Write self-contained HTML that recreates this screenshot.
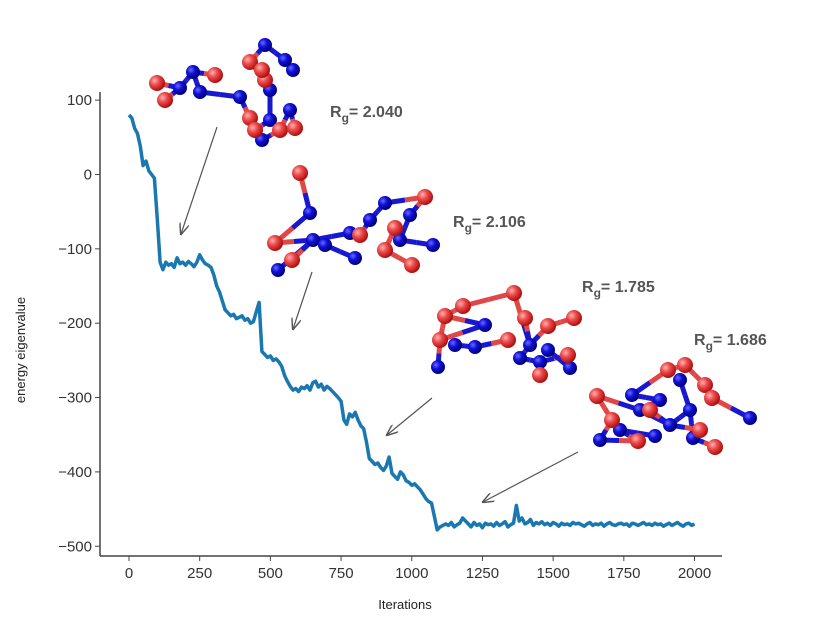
<!DOCTYPE html>
<html><head><meta charset="utf-8"><style>
html,body{margin:0;padding:0;background:#fff;}
svg{display:block;font-family:"Liberation Sans",sans-serif;}
</style></head><body>
<svg id="chart" width="835" height="635" viewBox="0 0 835 635">
<defs>
<radialGradient id="gr" cx="35%" cy="35%" r="65%"><stop offset="0" stop-color="#ffb0b0"/><stop offset="0.45" stop-color="#ec4a4a"/><stop offset="1" stop-color="#b01010"/></radialGradient>
<radialGradient id="gb" cx="35%" cy="35%" r="65%"><stop offset="0" stop-color="#6a6aff"/><stop offset="0.45" stop-color="#1010d8"/><stop offset="1" stop-color="#00007a"/></radialGradient>
<marker id="ah" markerWidth="10" markerHeight="8" refX="9" refY="4" orient="auto"><path d="M0,0 L10,4 L0,8" fill="none" stroke="#555" stroke-width="1.2"/></marker>
</defs>
<g id="plot"></g>
<g id="mols"></g>
<g id="ann"></g>
</svg>
<script>
const xTicks = [0,250,500,750,1000,1250,1500,1750,2000];
const yTicks = [100,0,-100,-200,-300,-400,-500];
const iterStep = 10;
const energy = [
80,76,62,55,38,12,18,5,0,-5,-60,-118,-128,-118,-122,-120,-125,-112,-120,-118,
-122,-117,-120,-124,-118,-108,-115,-120,-122,-125,-135,-150,-158,-170,-182,-186,-190,-188,-194,-192,
-190,-196,-194,-200,-198,-185,-172,-238,-242,-246,-244,-250,-248,-252,-258,-270,-278,-285,-290,-288,
-292,-286,-288,-284,-290,-280,-278,-286,-282,-290,-285,-288,-292,-296,-300,-305,-330,-336,-322,-326,
-320,-330,-338,-342,-360,-382,-386,-390,-388,-394,-398,-392,-380,-402,-406,-410,-400,-404,-412,-414,
-418,-416,-420,-424,-430,-436,-440,-442,-460,-478,-474,-472,-470,-472,-468,-474,-471,-469,-462,-466,
-470,-474,-468,-472,-470,-475,-469,-471,-470,-473,-468,-472,-470,-467,-474,-471,-469,-445,-466,-462,
-470,-468,-464,-472,-468,-470,-467,-471,-469,-472,-468,-470,-473,-469,-471,-470,-472,-468,-470,-469,
-471,-473,-470,-468,-472,-470,-471,-469,-473,-470,-468,-471,-472,-470,-469,-471,-470,-473,-469,-470,
-472,-470,-468,-471,-470,-472,-469,-471,-470,-473,-471,-469,-472,-470,-468,-471,-473,-470,-469,-472,
-470
];
const NS="http://www.w3.org/2000/svg";
const X0=100,X1=722,YB=556,YT=92;
function xs(v){return 129+v*(694.5-129)/2000;}
function ys(v){return 174.5-v*0.7435;}
function mk(t,a,p){const e=document.createElementNS(NS,t);for(const k in a)e.setAttribute(k,a[k]);(p||document.getElementById('plot')).appendChild(e);return e;}
const plot=document.getElementById('plot');
let ax=mk('line',{x1:X0,y1:YT,x2:X0,y2:YB,stroke:'#444','stroke-width':1.5});


let bx=mk('line',{x1:X0,y1:YB,x2:X1,y2:YB,stroke:'#444','stroke-width':1.5});


xTicks.forEach(t=>{
  mk('line',{x1:xs(t),y1:YB,x2:xs(t),y2:YB+5,stroke:'#444'});
  const tx=mk('text',{x:xs(t),y:YB+22,'text-anchor':'middle','font-size':15,fill:'#333'});
  tx.textContent=t;
  
  
});
yTicks.forEach(t=>{
  mk('line',{x1:X0-5,y1:ys(t),x2:X0,y2:ys(t),stroke:'#444'});
  const tx=mk('text',{x:X0-8,y:ys(t)+5,'text-anchor':'end','font-size':15,fill:'#333'});
  tx.textContent=t<0?'\u2212'+(-t):t;
  
  
});
let xl=mk('text',{x:405,y:609,'text-anchor':'middle','font-size':13,fill:'#222'});xl.textContent='Iterations';


let yl=mk('text',{x:25,y:350,'text-anchor':'middle','font-size':13,fill:'#222',transform:'rotate(-90 25 350)'});yl.textContent='energy eigenvalue';


let d=energy.map((v,i)=>(i?'L':'M')+xs(i*iterStep).toFixed(1)+','+ys(v).toFixed(1)).join(' ');
let ln=mk('path',{d:d,fill:'none',stroke:'#1a78b0','stroke-width':3.5,'stroke-linejoin':'round'});



const mols=document.getElementById('mols');
const molecules=[
 {r:[[157,83],[165,100],[215,75],[250,62],[265,80],[250,118],[255,130],[280,130],[295,128],[262,70]],
  b:[[193,72],[180,88],[200,92],[240,97],[265,45],[270,90],[290,110],[293,70],[285,60],[262,140],[270,120]],
  c:[['r0','b1'],['b1','b0'],['b0','r2'],['b0','b2'],['b2','b3'],['b3','r5'],['r5','r6'],['r6','b10'],['b10','b5'],['b5','r4'],['r4','r3'],['r3','b4'],['b4','b8'],['b8','b7'],['r9','b5'],['b6','r8'],['b6','r7'],['r7','b9'],['r1','b1']]},
 {r:[[300,173],[275,243],[292,260],[425,197],[412,265],[385,250],[360,235],[395,228]],
  b:[[310,213],[313,240],[278,270],[355,258],[370,220],[385,203],[410,215],[433,245],[350,233],[325,245],[400,240]],
  c:[['r0','b0'],['b0','r1'],['r1','b1'],['b1','b2'],['b1','b9'],['b9','b3'],['b1','b8'],['b8','r6'],['r6','b4'],['b4','b5'],['b5','r3'],['r3','b6'],['b6','b10'],['b10','b7'],['b10','r7'],['r7','r5'],['r5','r4'],['r2','b1']]},
 {r:[[463,306],[445,316],[514,293],[525,318],[548,326],[574,318],[568,355],[540,375],[508,340],[440,340]],
  b:[[485,325],[438,367],[475,347],[455,345],[530,345],[548,350],[570,368],[520,358],[540,362]],
  c:[['r1','r0'],['r0','r2'],['r2','b4'],['b4','b7'],['b7','b8'],['b8','r6'],['r3','b4'],['b4','r4'],['r4','r5'],['r1','b0'],['r9','b0'],['r9','b1'],['b3','b2'],['b2','r8'],['b5','b6'],['r7','b8'],['r1','r9']]},
 {r:[[597,396],[612,420],[638,441],[668,370],[685,365],[705,385],[712,398],[715,447],[700,430],[650,410]],
  b:[[632,395],[655,436],[600,440],[640,410],[660,400],[690,410],[670,425],[693,438],[750,418],[680,380],[620,430]],
  c:[['r0','r1'],['r0','b3'],['r1','b2'],['b2','r2'],['r2','b10'],['b10','b1'],['b0','r3'],['r3','r4'],['r4','r5'],['r5','r6'],['r6','b8'],['b9','b5'],['b5','b6'],['b6','b3'],['b3','b4'],['b4','b0'],['b5','b7'],['b7','r7'],['r9','b6'],['b6','r8']]}
];
molecules.forEach((m,mi)=>{
  const g=mk('g',{},mols);
  
  
  const P=k=>(k[0]=='r'?m.r:m.b)[+k.slice(1)];
  m.c.forEach(([a,b])=>{
    const A=P(a),B=P(b),mx=(A[0]+B[0])/2,my=(A[1]+B[1])/2;
    mk('line',{x1:A[0],y1:A[1],x2:mx,y2:my,stroke:a[0]=='r'?'#e04848':'#1818d0','stroke-width':5},g);
    mk('line',{x1:mx,y1:my,x2:B[0],y2:B[1],stroke:b[0]=='r'?'#e04848':'#1818d0','stroke-width':5},g);
  });
  m.b.forEach(p=>mk('circle',{cx:p[0],cy:p[1],r:7,fill:'url(#gb)'},g));
  m.r.forEach(p=>mk('circle',{cx:p[0],cy:p[1],r:8,fill:'url(#gr)'},g));
});
const ann=document.getElementById('ann');
[[330,117,'2.040'],[453,227,'2.106'],[582,292,'1.785'],[694,345,'1.686']].forEach(l=>{
  const t=mk('text',{x:l[0],y:l[1],'font-size':16,'font-weight':'bold',fill:'#555'},ann);
  t.innerHTML='R<tspan font-size="12" dy="5">g</tspan><tspan dy="-5">= '+l[2]+'</tspan>';
  
  
});
[[217,127,181,234],[312,272,293,329],[432,398,387,435],[578,452,483,502]].forEach(a=>{
  const l=mk('line',{x1:a[0],y1:a[1],x2:a[2],y2:a[3],stroke:'#555','stroke-width':1.2,'marker-end':'url(#ah)'},ann);
  
  
});
</script>
</body></html>
